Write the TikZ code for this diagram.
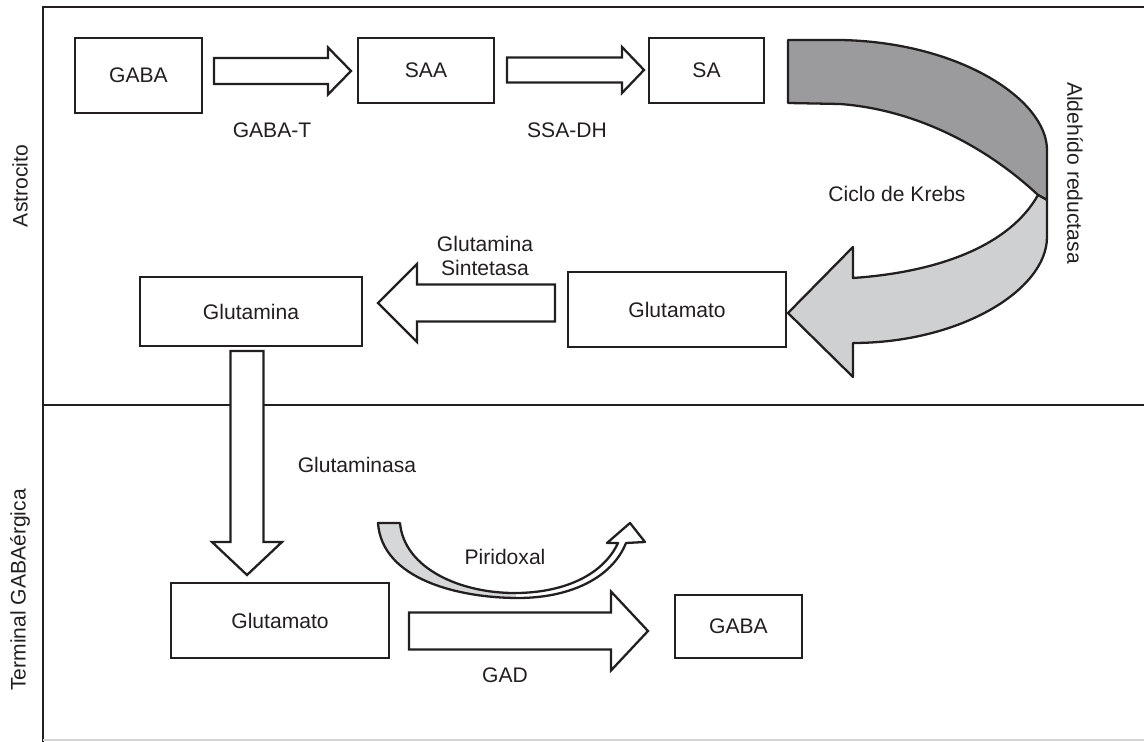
\documentclass[tikz,border=0pt]{standalone}
\usepackage{fontspec}
\setmainfont{Liberation Sans}
\usetikzlibrary{calc}
\definecolor{ink}{HTML}{231F20}
\definecolor{darkrib}{HTML}{9B9B9D}
\definecolor{lightrib}{HTML}{CFD0D2}
\definecolor{pyrgray}{HTML}{D6D7D9}
\definecolor{faint}{HTML}{D4D4D4}

% block arrow: tail, tip, half shaft, half head, head length
\newcommand{\blockarrow}[5]{%
  \coordinate (hb) at ($(#2)!#5!(#1)$);
  \draw[blk] ($(#1)!#3!90:(#2)$) -- ($(hb)!#3!90:(#2)$) -- ($(hb)!#4!90:(#2)$)
    -- (#2) -- ($(hb)!#4!-90:(#2)$) -- ($(hb)!#3!-90:(#2)$) -- ($(#1)!#3!-90:(#2)$) -- cycle;
}

\begin{document}
\begin{tikzpicture}[
    x=0.02cm, y=-0.02cm,
    every node/.style={font=\fontsize{12}{14}\selectfont, text=ink},
    % frame lines
    frame/.style={draw=ink, line width=1.2pt},
    % metabolite box
    box/.style={rectangle, draw=ink, line width=1.5pt, fill=white, inner sep=0pt},
    % hollow block arrow
    blk/.style={draw=ink, fill=white, line width=1.3pt, line join=miter},
    % curved ribbon arrows
    ribbon/.style={draw=ink, line width=1.3pt, line join=round}
]
\useasboundingbox (0,0) rectangle (1144,742);

% ---------- Frame ----------
\draw[frame] (43,742) -- (43,7) -- (1144,7);
\draw[frame] (43,405) -- (1144,405);
\draw[faint, line width=0.8pt] (43,740) -- (1144,740);

\node[rotate=90] (astro) at (20,186) {Astrocito};
\node[rotate=90] (term) at (20,590) {Terminal GABAérgica};

% ---------- Astrocito: top row ----------
\node[box, minimum width=2.54cm, minimum height=1.5cm] (gaba1) at (138.5,75.5) {GABA};
\node[box, minimum width=2.72cm, minimum height=1.3cm] (saa) at (426,70.5) {SAA};
\node[box, minimum width=2.3cm, minimum height=1.3cm] (sa) at (706.5,70.5) {SA};

\coordinate (t1) at (214,71);
\coordinate (h1) at (351,71);
\coordinate (t2) at (507,70);
\coordinate (h2) at (644,70);
\blockarrow{t1}{h1}{0.26cm}{0.47cm}{0.46cm}
\blockarrow{t2}{h2}{0.25cm}{0.46cm}{0.44cm}

\node (gabat) at (272,130) {GABA-T};
\node (ssadh) at (567,130) {SSA-DH};

% ---------- Aldehido reductasa ribbon ----------
\filldraw[ribbon, fill=darkrib] (788,40) -- (840,40) .. controls (960,42) and (1047,100) .. (1047,150)
  -- (1047,200) -- (1038,195) .. controls (990,150) and (920,110) .. (840,104) -- (788,103) -- cycle;
\filldraw[ribbon, fill=lightrib] (1038,195) -- (1047,200) -- (1047,237)
  .. controls (1047,290) and (960,343) .. (853,343) -- (853,377) -- (788,313) -- (853,247)
  -- (853,278) .. controls (940,272) and (1010,245) .. (1038,195) -- cycle;

\node (krebs) at (897,194) {Ciclo de Krebs};
\node[rotate=-90] (aldred) at (1075,173) {Aldehído reductasa};

% ---------- Astrocito: second row ----------
\node[box, minimum width=4.36cm, minimum height=1.5cm] (glu1) at (677,309.5) {Glutamato};
\node[box, minimum width=4.44cm, minimum height=1.38cm] (gln) at (251,311.5) {Glutamina};

\coordinate (t3) at (555,303);
\coordinate (h3) at (378,303);
\blockarrow{t3}{h3}{0.37cm}{0.78cm}{0.78cm}
\node[align=center] (gs) at (485,256) {Glutamina\\Sintetasa};

% ---------- Terminal GABAergica ----------
\coordinate (t4) at (247,351);
\coordinate (h4) at (247,575);
\blockarrow{t4}{h4}{0.33cm}{0.70cm}{0.66cm}
\node (glnase) at (357,465) {Glutaminasa};

\node[box, minimum width=4.36cm, minimum height=1.5cm] (glu2) at (280,620.5) {Glutamato};
\node[box, minimum width=2.54cm, minimum height=1.26cm] (gaba2) at (738.5,626.5) {GABA};

\coordinate (t5) at (409,631);
\coordinate (h5) at (648,631);
\blockarrow{t5}{h5}{0.37cm}{0.79cm}{0.74cm}
\node (gad) at (505,675) {GAD};

% Piridoxal ribbon
\begin{scope}
  \clip (370,500) rectangle (516,610);
  \fill[pyrgray] (378,523) .. controls (382,580) and (460,598) .. (518,598)
    -- (518,593) .. controls (460,594) and (404,568) .. (400,523) -- cycle;
\end{scope}
\draw[ribbon] (378,523) .. controls (382,580) and (460,598) .. (518,598)
  .. controls (570,598) and (612,578) .. (626,543) -- (645,542) -- (630,523) -- (607,543)
  -- (618,543) .. controls (604,573) and (568,592) .. (518,593)
  .. controls (460,594) and (404,568) .. (400,523) -- cycle;
\node (pyr) at (505,557) {Piridoxal};

\end{tikzpicture}
\end{document}
